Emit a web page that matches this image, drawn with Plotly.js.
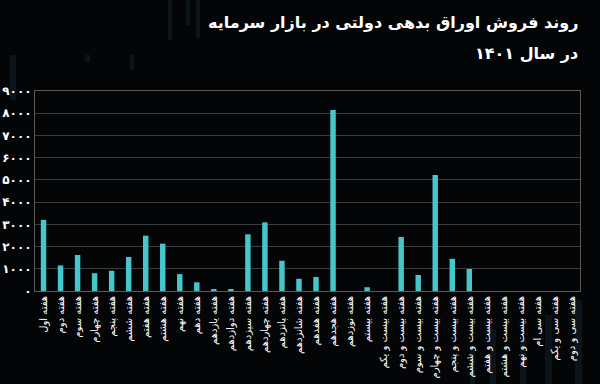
<!DOCTYPE html>
<html>
<head>
<meta charset="utf-8">
<script src="https://cdn.plot.ly/plotly-3.0.1.min.js"></script>
<style>html,body{margin:0;padding:0;background:#030507;}#chart{width:600px;height:384px;}</style>
</head>
<body>
<div id="chart"></div>
<script>
var weeks = [
  "هفته اول","هفته دوم","هفته سوم","هفته چهارم","هفته پنجم","هفته ششم",
  "هفته هفتم","هفته هشتم","هفته نهم","هفته دهم","هفته یازدهم","هفته دوازدهم",
  "هفته سیزدهم","هفته چهاردهم","هفته پانزدهم","هفته شانزدهم","هفته هفدهم","هفته هجدهم",
  "هفته نوزدهم","هفته بیستم","هفته بیست و یکم","هفته بیست و دوم","هفته بیست و سوم","هفته بیست و چهارم",
  "هفته بیست و پنجم","هفته بیست و ششم","هفته بیست و هفتم","هفته بیست و هشتم","هفته بیست و نهم","هفته سی ام",
  "هفته سی و یکم","هفته سی و دوم"
];
var sales = [
  3200, 1150, 1620, 800, 910, 1530,
  2490, 2130, 760, 390, 90, 90,
  2550, 3090, 1360, 550, 630, 8150,
  0, 170, 0, 2430, 720, 5220,
  1450, 990, 0, 0, 0, 0,
  0, 0
];
var yTickValues = [0, 1000, 2000, 3000, 4000, 5000, 6000, 7000, 8000, 9000];
var yTickLabels = ["۰","۱۰۰۰","۲۰۰۰","۳۰۰۰","۴۰۰۰","۵۰۰۰","۶۰۰۰","۷۰۰۰","۸۰۰۰","۹۰۰۰"];
var titleLine1 = "روند فروش اوراق بدهی دولتی در بازار سرمایه";
var titleLine2 = "در سال ۱۴۰۱";

// faint decorative background streaks (page pixels: x0, x1, y0, y1)
var deco = [
  [168,172,0,40],[186,190,0,25],[196,200,0,38],
  [10,16,55,100],[85,90,55,62],[130,134,55,70],
  [545,552,315,384],[520,526,340,384],[490,496,330,384],[470,475,350,384],[575,582,300,384]
];
var PL = 35, PR = 580, PT = 91, PB = 291;
var shapes = deco.map(function(d){
  return {type:'rect', xref:'paper', yref:'paper',
    x0:(d[0]-PL)/(PR-PL), x1:(d[1]-PL)/(PR-PL),
    y0:(PB-d[3])/(PB-PT), y1:(PB-d[2])/(PB-PT),
    fillcolor:'rgba(16,36,48,0.5)', line:{width:0}, layer:'below'};
});

var trace = {
  type:'bar', x: weeks, y: sales,
  marker:{color:'#45c6cb'},
  hoverinfo:'x+y'
};

var layout = {
  width:600, height:384,
  margin:{l:PL, r:600-PR, t:PT, b:384-PB},
  paper_bgcolor:'#030507', plot_bgcolor:'rgba(0,0,0,0)',
  bargap:0.68,
  showlegend:false,
  font:{family:'DejaVu Sans, sans-serif', color:'#ffffff'},
  xaxis:{
    type:'category', tickangle:-90, showgrid:false,
    showline:true, linecolor:'#5a5a5a', linewidth:1, mirror:true,
    ticks:'', tickfont:{size:10, color:'#ffffff', family:'DejaVu Sans, sans-serif'},
    automargin:false, fixedrange:true
  },
  yaxis:{
    range:[0,9000], tickvals:yTickValues, ticktext:yTickLabels,
    showgrid:true, gridcolor:'#3c3c3c', gridwidth:1,
    showline:true, linecolor:'#5a5a5a', linewidth:1, mirror:true,
    zeroline:false, ticks:'',
    tickfont:{size:12, color:'#ffffff', family:'DejaVu Sans, sans-serif', weight:'bold'},
    automargin:false, fixedrange:true
  },
  shapes: shapes,
  annotations:[
    {text:titleLine1, xref:'paper', yref:'paper', x:1, y:(PB-22)/(PB-PT),
     xanchor:'right', yanchor:'middle', showarrow:false,
     font:{size:16, color:'#ffffff', family:'DejaVu Sans, sans-serif', weight:'bold'}},
    {text:titleLine2, xref:'paper', yref:'paper', x:1, y:(PB-53)/(PB-PT),
     xanchor:'right', yanchor:'middle', showarrow:false,
     font:{size:16, color:'#ffffff', family:'DejaVu Sans, sans-serif', weight:'bold'}}
  ]
};

Plotly.newPlot('chart', [trace], layout, {displayModeBar:false, staticPlot:true});
</script>
</body>
</html>
